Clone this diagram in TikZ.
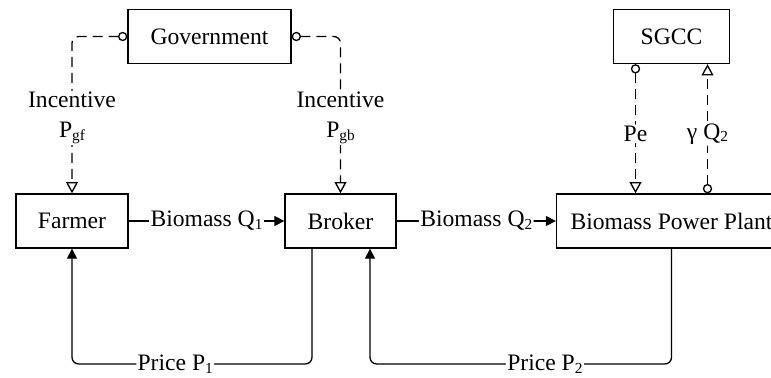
\documentclass[tikz,border=0pt]{standalone}
\usepackage{fontspec}
\setmainfont{Liberation Serif}
\usetikzlibrary{arrows.meta}

\newcommand\lowsub[1]{\raisebox{-0.25ex}{\fontsize{11.5}{12}\selectfont #1}}

\tikzset{
  box/.style={draw, line width=1pt, minimum height=40.5pt, inner sep=0pt,
    font=\fontsize{17.7}{22.5}\selectfont},
  flow/.style={line width=1pt, rounded corners=5pt,
    -{Triangle[length=7.5pt,width=7.5pt]}},
  signal/.style={line width=1pt, dash pattern=on 7.5pt off 4.5pt, rounded corners=5pt,
    {Circle[open,length=7pt]}-{Triangle[open,length=8.5pt,width=9pt]}},
  lbl/.style={fill=white, inner sep=1pt, align=center,
    font=\fontsize{17.7}{22.5}\selectfont}
}

\begin{document}
\begin{tikzpicture}[x=0.75pt,y=0.75pt,yscale=-1,xscale=1]
\useasboundingbox (0,0) rectangle (771,378);
\clip (0,0) rectangle (771,378);

%Shape: Rectangle [Government]
\node[box, minimum width=122.25pt] (gov) at (209.5,36.5) {Government};
%Shape: Rectangle [SGCC]
\node[box, minimum width=87pt] (sgcc) at (671.5,36.5) {SGCC};
%Shape: Rectangle [Farmer]
\node[box, minimum width=84pt] (farmer) at (72,221) {Farmer};
%Shape: Rectangle [Broker]
\node[box, minimum width=83.25pt] (broker) at (340.5,221) {Broker};
%Shape: Rectangle [Power plant]
\node[box, minimum width=172.5pt] (bpp) at (671.5,221) {Biomass Power Plant};

%Straight Lines [incentives]
\draw[signal] (gov.west) -| node[lbl,pos=0.76]{Incentive\\P\lowsub{gf}} (farmer.north);
\draw[signal] (gov.east) -| node[lbl,pos=0.76]{Incentive\\P\lowsub{gb}} (broker.north);

%Straight Lines [grid]
\draw[signal] ([xshift=-27pt]sgcc.south) -- node[lbl,pos=0.54]{Pe} ([xshift=-27pt]bpp.north);
\draw[signal] ([xshift=27pt]bpp.north) -- node[lbl,pos=0.46]{γ Q\lowsub{2}} ([xshift=27pt]sgcc.south);

%Straight Lines [biomass]
\draw[flow] (farmer) -- node[lbl]{Biomass Q\lowsub{1}} (broker);
\draw[flow] (broker) -- node[lbl]{Biomass Q\lowsub{2}} (bpp);

%Straight Lines [prices]
\coordinate (p1b) at (312,364);
\coordinate (p2b) at (370,364);
\draw[flow] (broker.south -| p1b) -- (p1b) -- node[lbl,pos=0.57]{Price P\lowsub{1}} (p1b -| farmer.south) -- (farmer.south);
\draw[flow] (bpp.south) -- (bpp.south |- p2b) -- node[lbl,pos=0.42]{Price P\lowsub{2}} (p2b) -- (broker.south -| p2b);

\end{tikzpicture}
\end{document}
